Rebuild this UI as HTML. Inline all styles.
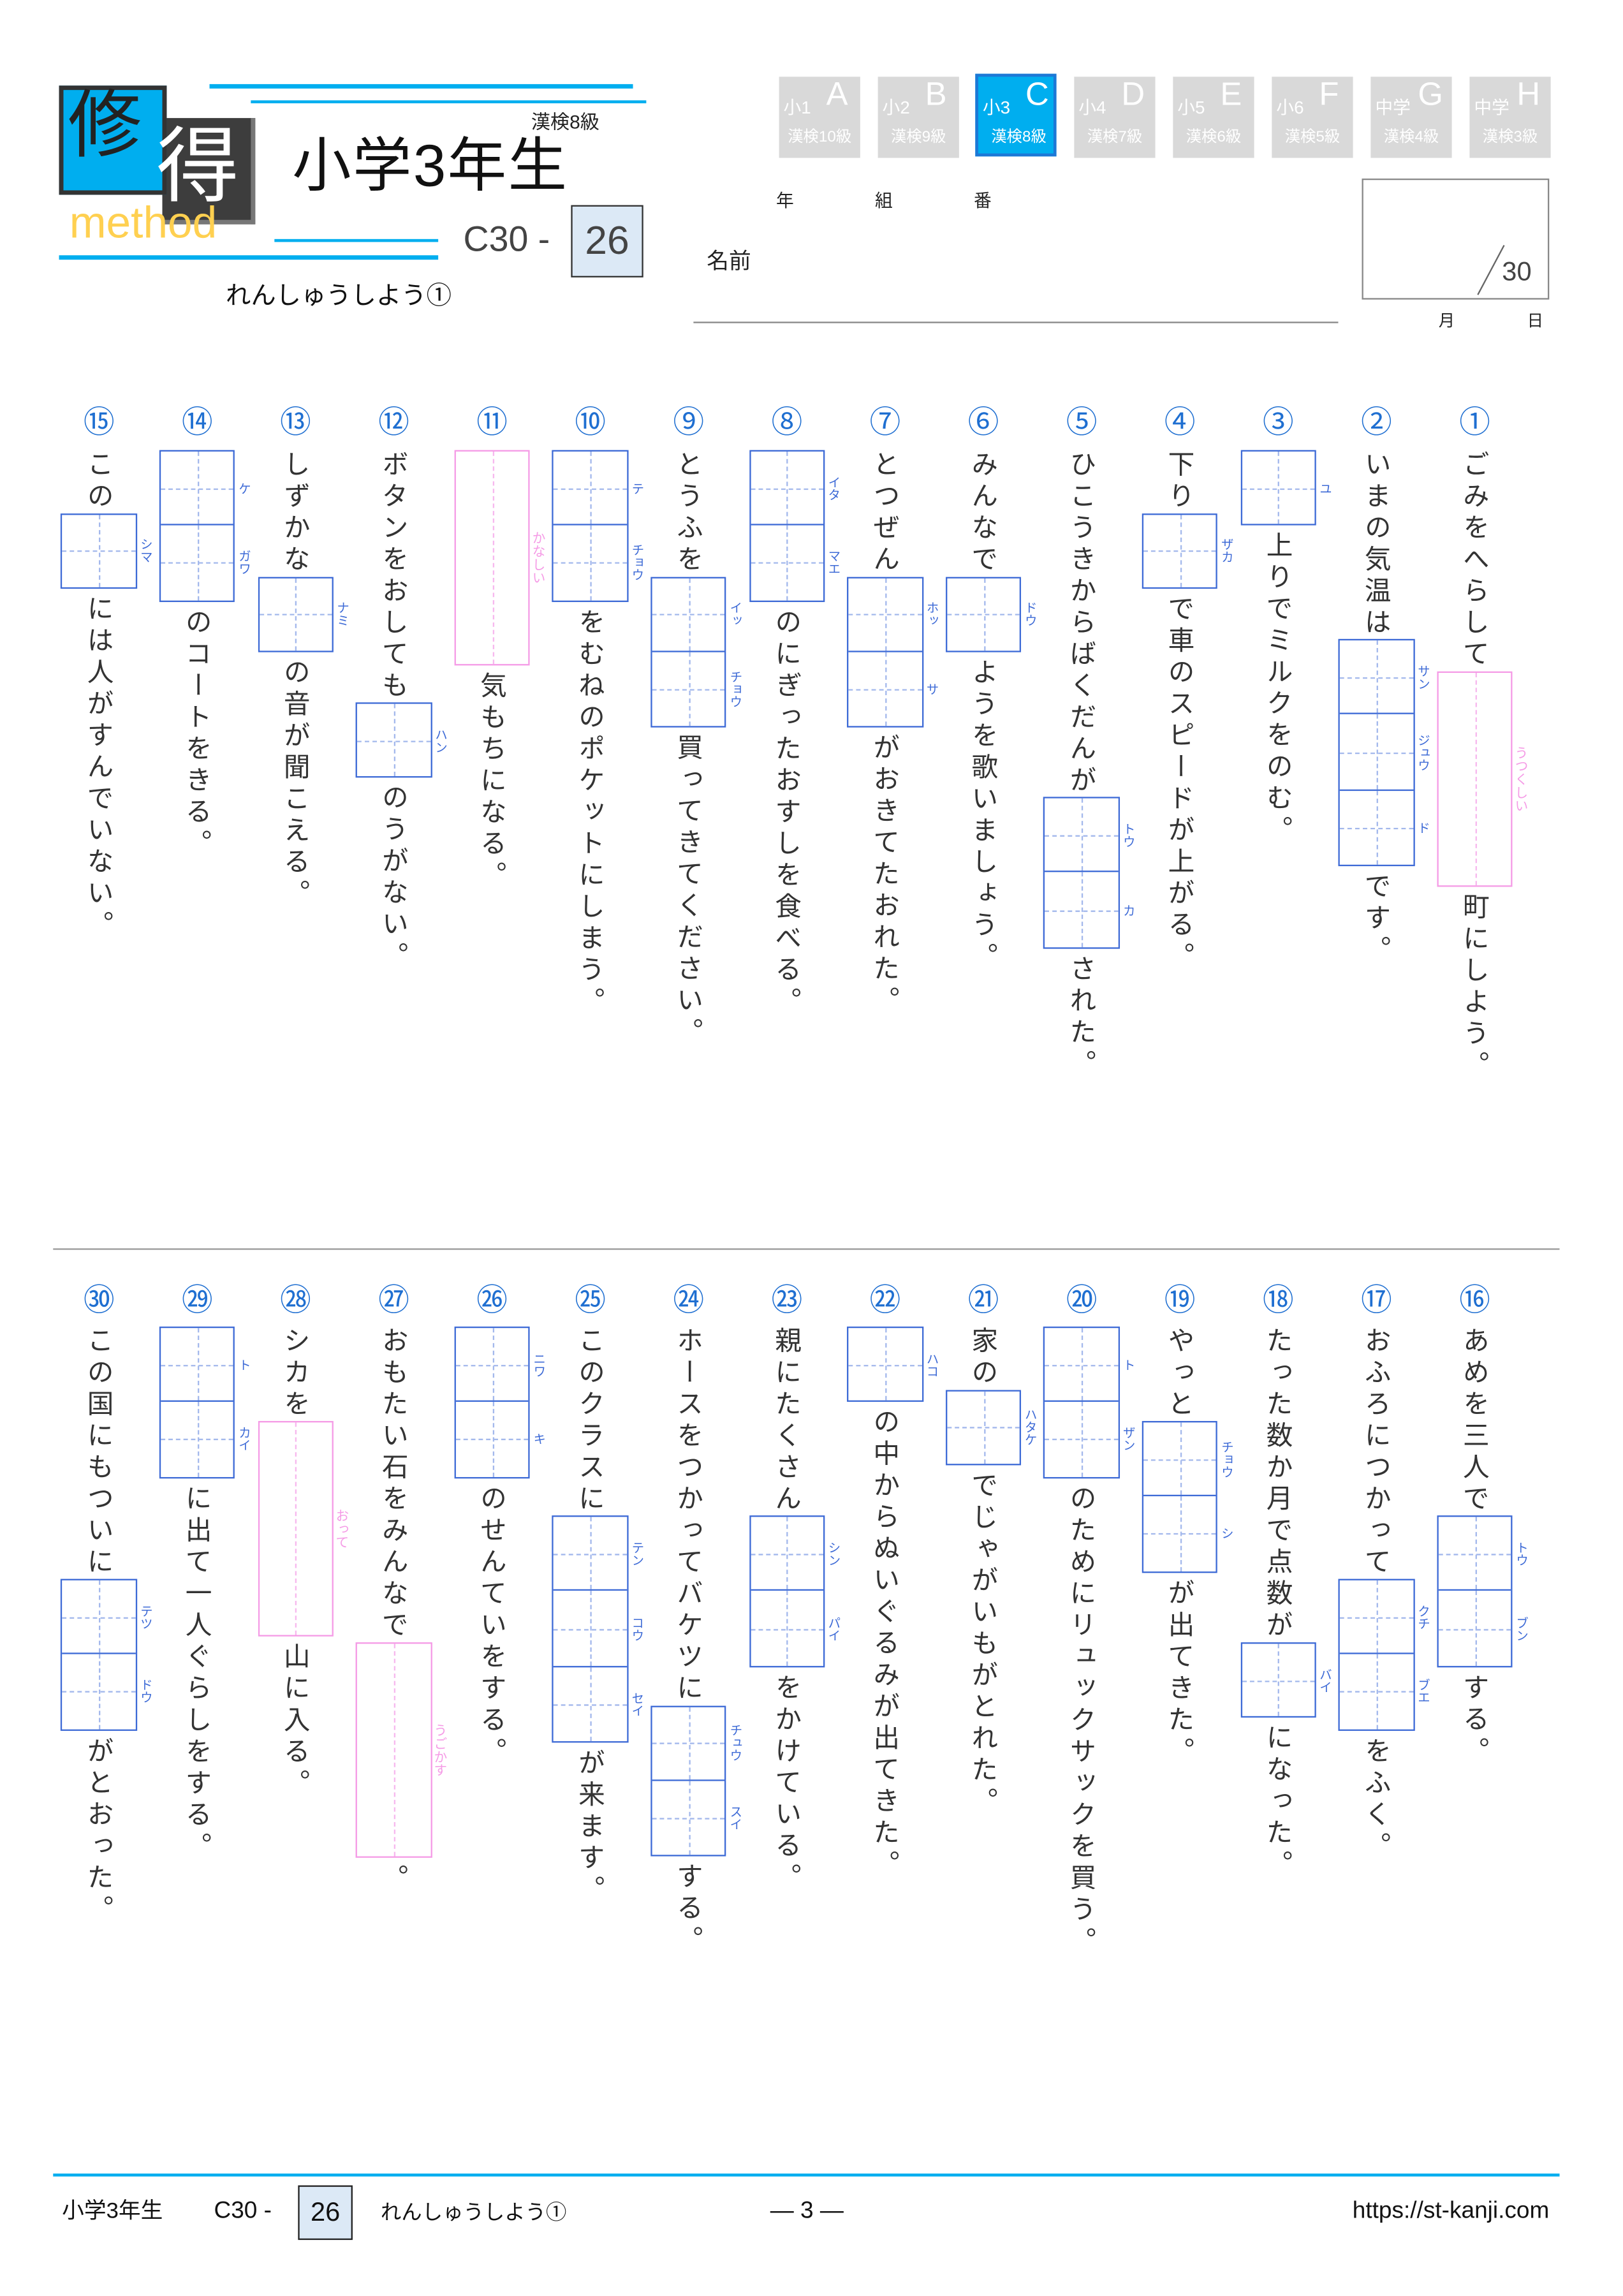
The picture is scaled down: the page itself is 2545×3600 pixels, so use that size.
<!DOCTYPE html>
<html><head><meta charset="utf-8">
<style>
html,body{margin:0;padding:0;background:#fff}
body{width:2545px;height:3600px;overflow:hidden;position:relative}
#s{position:absolute;left:0;top:0;width:1100px;height:1556px;transform:scale(2.31364);transform-origin:0 0;font-family:"Liberation Sans","Noto Sans CJK JP",sans-serif;color:#333}
.a{position:absolute}
.col{position:absolute;width:52px;display:flex;flex-direction:column;align-items:center}
.t{writing-mode:vertical-rl;font-size:18px;line-height:52px;letter-spacing:3.4px;color:#333;white-space:nowrap}
.b{position:relative;width:51.5px;box-sizing:border-box;border:1.3px solid #3d6ad6;margin-bottom:4px}
.c{position:relative;height:51.5px;box-sizing:border-box;border-top:1.3px solid #3d6ad6}
.c:first-child{border-top:none;height:49px}
.c::before{content:"";position:absolute;left:50%;top:0;bottom:0;border-left:1px dashed #a3b8ec}
.c::after{content:"";position:absolute;top:50%;left:0;right:0;border-top:1px dashed #a3b8ec}
.f{position:absolute;left:52px;top:50%;transform:translateY(-50%);writing-mode:vertical-rl;font-size:8.5px;color:#3d6ad6;line-height:9px;white-space:nowrap;font-family:"Noto Sans CJK JP",sans-serif}
.p{position:relative;width:51.5px;height:146px;box-sizing:border-box;border:1.3px solid #f59be6;margin-bottom:4px}
.p::before{content:"";position:absolute;left:50%;top:0;bottom:0;border-left:1px dashed #f7b8ee}
.p .f{color:#f59be6;font-size:9px}
.n{position:absolute;width:52px;text-align:center;font-size:21px;color:#1f6fd1;line-height:22px;font-family:"Noto Sans CJK JP",sans-serif}
.tab{position:absolute;top:52px;width:55px;height:55px;background:#d9d9d9;color:#fff}
.tab .g{position:absolute;left:3px;top:12px;font-size:12px}
.tab .L{position:absolute;left:32px;top:-1px;font-size:22px}
.tab .k{position:absolute;left:0;width:55px;text-align:center;top:33px;font-size:10.5px}
.tab.on{background:#00aeef;border:2px solid #1d78d6;top:50px;width:55px;height:56px;box-sizing:border-box}
</style></head><body><div id="s">
<div class="a" style="left:110px;top:80px;width:63px;height:72px;background:#3d3d3d;border:3px solid #777;border-left:none;border-top:none;box-sizing:border-box"></div>
<div class="a" style="left:40px;top:58px;width:73px;height:74px;background:#00aeef;border:3px solid #333;box-sizing:border-box"></div>
<div class="a" style="left:46px;top:55px;font-size:50px;color:#222;line-height:60px">修</div>
<div class="a" style="left:106px;top:80px;font-size:56px;color:#fff;line-height:66px">得</div>
<div class="a" style="left:47px;top:134px;font-size:30px;color:#ffd050;line-height:36px">method</div>
<div class="a" style="left:142px;top:57px;width:287px;height:3px;background:#00aeef"></div>
<div class="a" style="left:170px;top:68px;width:268px;height:2px;background:#00aeef"></div>
<div class="a" style="left:360px;top:72px;font-size:13px;color:#222">漢検8級</div>
<div class="a" style="left:198px;top:88px;font-size:40px;color:#111;line-height:50px;letter-spacing:1px">小学3年生</div>
<div class="a" style="left:186px;top:162px;width:111px;height:2px;background:#00aeef"></div>
<div class="a" style="left:40px;top:173px;width:257px;height:3px;background:#00aeef"></div>
<div class="a" style="left:314px;top:148px;font-size:24px;color:#444;line-height:30px">C30 -</div>
<div class="a" style="left:387px;top:139px;width:49px;height:49px;background:#dce9f6;border:1px solid #333;box-sizing:border-box;font-size:27px;color:#444;text-align:center;line-height:46px">26</div>
<div class="a" style="left:153px;top:190px;font-size:17px;color:#111;line-height:22px">れんしゅうしよう①</div>
<div class="tab" style="left:528px"><span class="g">小1</span><span class="L">A</span><div class="k">漢検10級</div></div>
<div class="tab" style="left:595px"><span class="g">小2</span><span class="L">B</span><div class="k">漢検9級</div></div>
<div class="tab on" style="left:661px"><span class="g">小3</span><span class="L">C</span><div class="k">漢検8級</div></div>
<div class="tab" style="left:728px"><span class="g">小4</span><span class="L">D</span><div class="k">漢検7級</div></div>
<div class="tab" style="left:795px"><span class="g">小5</span><span class="L">E</span><div class="k">漢検6級</div></div>
<div class="tab" style="left:862px"><span class="g">小6</span><span class="L">F</span><div class="k">漢検5級</div></div>
<div class="tab" style="left:929px"><span class="g">中学</span><span class="L">G</span><div class="k">漢検4級</div></div>
<div class="tab" style="left:996px"><span class="g">中学</span><span class="L">H</span><div class="k">漢検3級</div></div>
<div class="a" style="left:526px;top:127px;font-size:12px;color:#222">年</div>
<div class="a" style="left:593px;top:127px;font-size:12px;color:#222">組</div>
<div class="a" style="left:660px;top:127px;font-size:12px;color:#222">番</div>
<div class="a" style="left:479px;top:166px;font-size:15px;color:#222">名前</div>
<div class="a" style="left:470px;top:218px;width:437px;height:1px;background:#888"></div>
<div class="a" style="left:923px;top:121px;width:127px;height:82px;border:1px solid #888;box-sizing:border-box"></div>
<div class="a" style="left:1010px;top:164px;width:1px;height:38px;background:#666;transform:rotate(28deg)"></div>
<div class="a" style="left:1018px;top:174px;font-size:18px;color:#444">30</div>
<div class="a" style="left:975px;top:209px;font-size:11px;color:#222">月</div>
<div class="a" style="left:1035px;top:209px;font-size:11px;color:#222">日</div>

<div class="n" style="left:973.5px;top:274px">①</div>
<div class="n" style="left:906.9px;top:274px">②</div>
<div class="n" style="left:840.3px;top:274px">③</div>
<div class="n" style="left:773.7px;top:274px">④</div>
<div class="n" style="left:707.1px;top:274px">⑤</div>
<div class="n" style="left:640.5px;top:274px">⑥</div>
<div class="n" style="left:573.9px;top:274px">⑦</div>
<div class="n" style="left:507.3px;top:274px">⑧</div>
<div class="n" style="left:440.7px;top:274px">⑨</div>
<div class="n" style="left:374.1px;top:274px">⑩</div>
<div class="n" style="left:307.5px;top:274px">⑪</div>
<div class="n" style="left:240.9px;top:274px">⑫</div>
<div class="n" style="left:174.3px;top:274px">⑬</div>
<div class="n" style="left:107.7px;top:274px">⑭</div>
<div class="n" style="left:41.1px;top:274px">⑮</div>
<div class="col" style="left:973.5px;top:305px"><div class="t">ごみをへらして</div><div class="p"><span class="f">うつくしい</span></div><div class="t">町にしよう。</div></div>
<div class="col" style="left:906.9px;top:305px"><div class="t">いまの気温は</div><div class="b"><div class="c"><span class="f">サン</span></div><div class="c"><span class="f">ジュウ</span></div><div class="c"><span class="f">ド</span></div></div><div class="t">です。</div></div>
<div class="col" style="left:840.3px;top:305px"><div class="b"><div class="c"><span class="f">ユ</span></div></div><div class="t">上りでミルクをのむ。</div></div>
<div class="col" style="left:773.7px;top:305px"><div class="t">下り</div><div class="b"><div class="c"><span class="f">ザカ</span></div></div><div class="t">で車のスピードが上がる。</div></div>
<div class="col" style="left:707.1px;top:305px"><div class="t">ひこうきからばくだんが</div><div class="b"><div class="c"><span class="f">トウ</span></div><div class="c"><span class="f">カ</span></div></div><div class="t">された。</div></div>
<div class="col" style="left:640.5px;top:305px"><div class="t">みんなで</div><div class="b"><div class="c"><span class="f">ドウ</span></div></div><div class="t">ようを歌いましょう。</div></div>
<div class="col" style="left:573.9px;top:305px"><div class="t">とつぜん</div><div class="b"><div class="c"><span class="f">ホッ</span></div><div class="c"><span class="f">サ</span></div></div><div class="t">がおきてたおれた。</div></div>
<div class="col" style="left:507.3px;top:305px"><div class="b"><div class="c"><span class="f">イタ</span></div><div class="c"><span class="f">マエ</span></div></div><div class="t">のにぎったおすしを食べる。</div></div>
<div class="col" style="left:440.7px;top:305px"><div class="t">とうふを</div><div class="b"><div class="c"><span class="f">イッ</span></div><div class="c"><span class="f">チョウ</span></div></div><div class="t">買ってきてください。</div></div>
<div class="col" style="left:374.1px;top:305px"><div class="b"><div class="c"><span class="f">テ</span></div><div class="c"><span class="f">チョウ</span></div></div><div class="t">をむねのポケットにしまう。</div></div>
<div class="col" style="left:307.5px;top:305px"><div class="p"><span class="f">かなしい</span></div><div class="t">気もちになる。</div></div>
<div class="col" style="left:240.9px;top:305px"><div class="t">ボタンをおしても</div><div class="b"><div class="c"><span class="f">ハン</span></div></div><div class="t">のうがない。</div></div>
<div class="col" style="left:174.3px;top:305px"><div class="t">しずかな</div><div class="b"><div class="c"><span class="f">ナミ</span></div></div><div class="t">の音が聞こえる。</div></div>
<div class="col" style="left:107.7px;top:305px"><div class="b"><div class="c"><span class="f">ケ</span></div><div class="c"><span class="f">ガワ</span></div></div><div class="t">のコートをきる。</div></div>
<div class="col" style="left:41.1px;top:305px"><div class="t">この</div><div class="b"><div class="c"><span class="f">シマ</span></div></div><div class="t">には人がすんでいない。</div></div>

<div class="a" style="left:36px;top:846px;width:1021px;height:1px;background:#999"></div>

<div class="n" style="left:973.5px;top:869px">⑯</div>
<div class="n" style="left:906.9px;top:869px">⑰</div>
<div class="n" style="left:840.3px;top:869px">⑱</div>
<div class="n" style="left:773.7px;top:869px">⑲</div>
<div class="n" style="left:707.1px;top:869px">⑳</div>
<div class="n" style="left:640.5px;top:869px">㉑</div>
<div class="n" style="left:573.9px;top:869px">㉒</div>
<div class="n" style="left:507.3px;top:869px">㉓</div>
<div class="n" style="left:440.7px;top:869px">㉔</div>
<div class="n" style="left:374.1px;top:869px">㉕</div>
<div class="n" style="left:307.5px;top:869px">㉖</div>
<div class="n" style="left:240.9px;top:869px">㉗</div>
<div class="n" style="left:174.3px;top:869px">㉘</div>
<div class="n" style="left:107.7px;top:869px">㉙</div>
<div class="n" style="left:41.1px;top:869px">㉚</div>
<div class="col" style="left:973.5px;top:899px"><div class="t">あめを三人で</div><div class="b"><div class="c"><span class="f">トウ</span></div><div class="c"><span class="f">ブン</span></div></div><div class="t">する。</div></div>
<div class="col" style="left:906.9px;top:899px"><div class="t">おふろにつかって</div><div class="b"><div class="c"><span class="f">クチ</span></div><div class="c"><span class="f">ブエ</span></div></div><div class="t">をふく。</div></div>
<div class="col" style="left:840.3px;top:899px"><div class="t">たった数か月で点数が</div><div class="b"><div class="c"><span class="f">バイ</span></div></div><div class="t">になった。</div></div>
<div class="col" style="left:773.7px;top:899px"><div class="t">やっと</div><div class="b"><div class="c"><span class="f">チョウ</span></div><div class="c"><span class="f">シ</span></div></div><div class="t">が出てきた。</div></div>
<div class="col" style="left:707.1px;top:899px"><div class="b"><div class="c"><span class="f">ト</span></div><div class="c"><span class="f">ザン</span></div></div><div class="t">のためにリュックサックを買う。</div></div>
<div class="col" style="left:640.5px;top:899px"><div class="t">家の</div><div class="b"><div class="c"><span class="f">ハタケ</span></div></div><div class="t">でじゃがいもがとれた。</div></div>
<div class="col" style="left:573.9px;top:899px"><div class="b"><div class="c"><span class="f">ハコ</span></div></div><div class="t">の中からぬいぐるみが出てきた。</div></div>
<div class="col" style="left:507.3px;top:899px"><div class="t">親にたくさん</div><div class="b"><div class="c"><span class="f">シン</span></div><div class="c"><span class="f">パイ</span></div></div><div class="t">をかけている。</div></div>
<div class="col" style="left:440.7px;top:899px"><div class="t">ホースをつかってバケツに</div><div class="b"><div class="c"><span class="f">チュウ</span></div><div class="c"><span class="f">スイ</span></div></div><div class="t">する。</div></div>
<div class="col" style="left:374.1px;top:899px"><div class="t">このクラスに</div><div class="b"><div class="c"><span class="f">テン</span></div><div class="c"><span class="f">コウ</span></div><div class="c"><span class="f">セイ</span></div></div><div class="t">が来ます。</div></div>
<div class="col" style="left:307.5px;top:899px"><div class="b"><div class="c"><span class="f">ニワ</span></div><div class="c"><span class="f">キ</span></div></div><div class="t">のせんていをする。</div></div>
<div class="col" style="left:240.9px;top:899px"><div class="t">おもたい石をみんなで</div><div class="p"><span class="f">うごかす</span></div><div class="t">。</div></div>
<div class="col" style="left:174.3px;top:899px"><div class="t">シカを</div><div class="p"><span class="f">おって</span></div><div class="t">山に入る。</div></div>
<div class="col" style="left:107.7px;top:899px"><div class="b"><div class="c"><span class="f">ト</span></div><div class="c"><span class="f">カイ</span></div></div><div class="t">に出て一人ぐらしをする。</div></div>
<div class="col" style="left:41.1px;top:899px"><div class="t">この国にもついに</div><div class="b"><div class="c"><span class="f">テツ</span></div><div class="c"><span class="f">ドウ</span></div></div><div class="t">がとおった。</div></div>

<div class="a" style="left:36px;top:1473px;width:1021px;height:2px;background:#00aeef"></div>
<div class="a" style="left:42px;top:1489px;font-size:15px;color:#111;line-height:20px">小学3年生</div>
<div class="a" style="left:145px;top:1489px;font-size:16px;color:#111;line-height:20px">C30 -</div>
<div class="a" style="left:202px;top:1481px;width:37px;height:37px;background:#dce9f6;border:1px solid #222;box-sizing:border-box;font-size:18px;text-align:center;line-height:35px;color:#111">26</div>
<div class="a" style="left:258px;top:1489px;font-size:14px;color:#111;line-height:20px">れんしゅうしよう①</div>
<div class="a" style="left:522px;top:1489px;font-size:16px;color:#111;line-height:20px">— 3 —</div>
<div class="a" style="right:50px;top:1489px;font-size:16px;color:#111;line-height:20px">https://st-kanji.com</div>
</div></body></html>
